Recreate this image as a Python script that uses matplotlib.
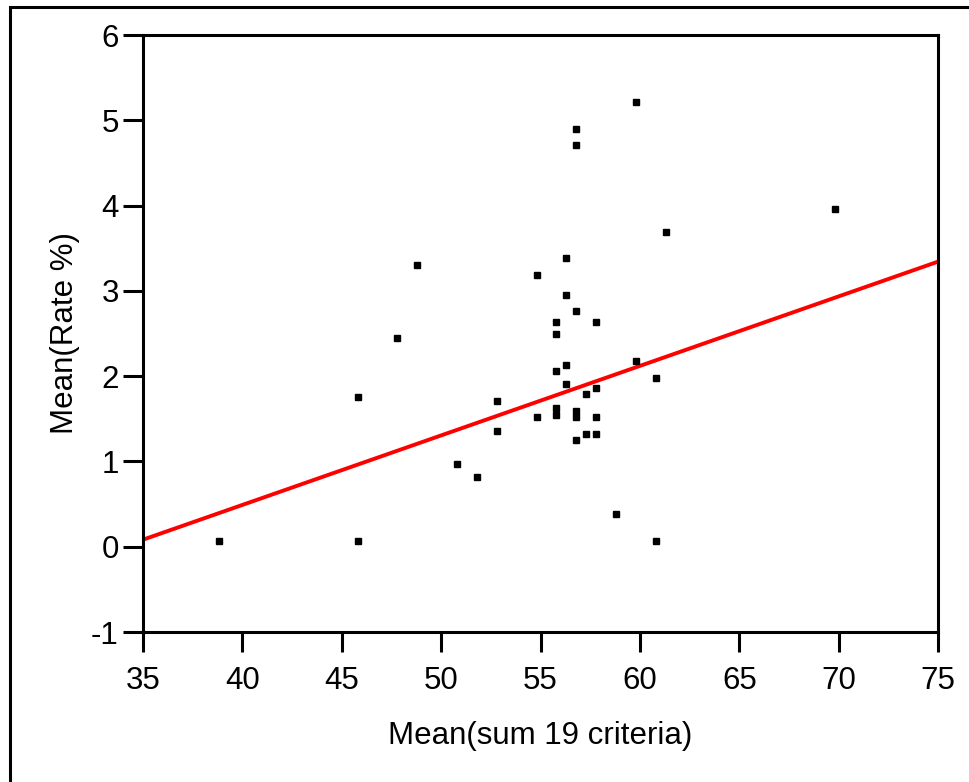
import numpy as np
import matplotlib.pyplot as plt
from matplotlib.patches import Rectangle

plt.rcParams['font.family'] = ['Liberation Sans', 'DejaVu Sans']
plt.rcParams['axes.unicode_minus'] = False

# mean of the 19-criteria sum per unit
sum_criteria = [38.8, 45.8, 45.8, 47.8, 48.8, 50.8, 51.8, 52.8, 52.8, 54.8,
                54.8, 55.8, 55.8, 55.8, 55.8, 55.8, 56.3, 56.3, 56.3, 56.3,
                56.8, 56.8, 56.8, 56.8, 56.8, 56.8, 57.3, 57.3, 57.8, 57.8,
                57.8, 57.8, 58.8, 59.8, 59.8, 60.8, 60.8, 61.3, 69.8]
# mean rate (%)
rate = [0.07, 1.76, 0.07, 2.45, 3.30, 0.97, 0.82, 1.71, 1.36, 3.19,
        1.52, 2.64, 2.49, 2.06, 1.63, 1.55, 3.38, 2.95, 2.13, 1.91,
        4.90, 4.71, 2.76, 1.59, 1.52, 1.25, 1.79, 1.32, 2.64, 1.86,
        1.52, 1.32, 0.38, 5.21, 2.18, 1.98, 0.07, 3.69, 3.96]

# fitted line
fit_intercept = -2.77
fit_slope = 0.0815

xlim = (35, 75)
ylim = (-1, 6)
xticks = [35, 40, 45, 50, 55, 60, 65, 70, 75]
yticks = [-1, 0, 1, 2, 3, 4, 5, 6]

fig = plt.figure(figsize=(9.69, 7.82), dpi=100)
ax = fig.add_axes([143/969, 1 - 632/782, 795/969, 597/782])

ax.plot(sum_criteria, rate, 's', color='black', markersize=5, zorder=3)
xs = np.array(xlim)
ax.plot(xs, fit_intercept + fit_slope * xs, color='#ff0000', linewidth=2.8,
        solid_capstyle='butt', zorder=2)

ax.set_xlim(*xlim)
ax.set_ylim(*ylim)
ax.set_xticks(xticks)
ax.set_yticks(yticks)
for s in ax.spines.values():
    s.set_linewidth(2.2)
ax.tick_params(direction='out', length=14.5, width=2.2, labelsize=22.5)
ax.tick_params(axis='x', pad=10)
ax.tick_params(axis='y', pad=3)

ax.set_xlabel('Mean(sum 19 criteria)', fontsize=22.5, labelpad=18)
ax.set_ylabel('Mean(Rate %)', fontsize=22.5, labelpad=8)

# outer frame around the whole graph
fig.patches.append(Rectangle((10/969, -0.05), 1.1, 1 - 7/782 + 0.05,
                             transform=fig.transFigure, fill=False,
                             edgecolor='black', linewidth=2.2))

fig.savefig('out.png', dpi=100)
